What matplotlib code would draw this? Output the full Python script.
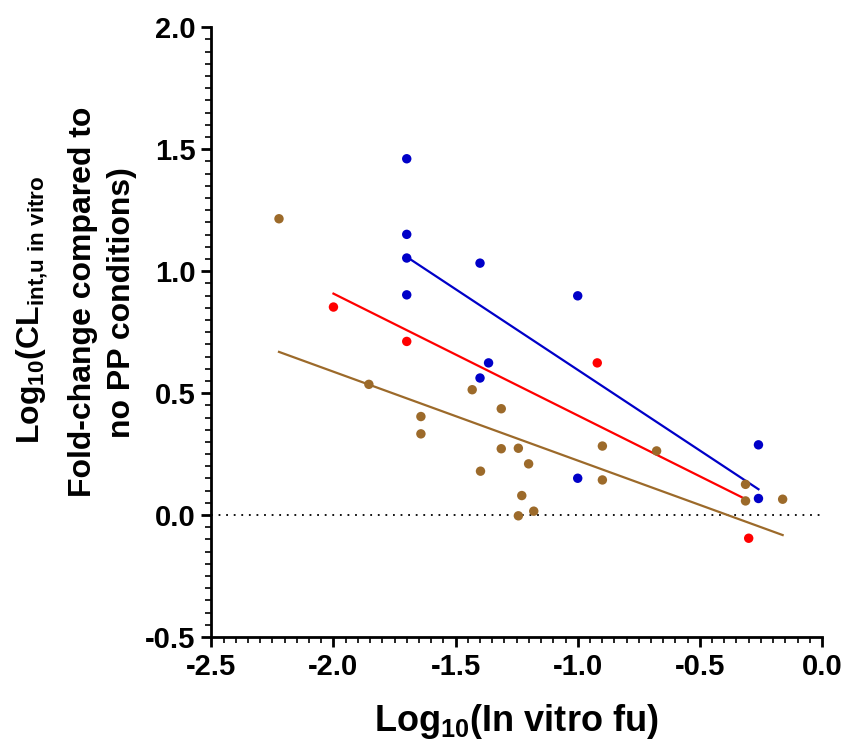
import numpy as np
import matplotlib
matplotlib.use('Agg')
import matplotlib.pyplot as plt
from matplotlib.ticker import MultipleLocator, FormatStrFormatter

plt.rcParams['font.family'] = ['Liberation Sans', 'DejaVu Sans']
plt.rcParams['font.weight'] = 'bold'
plt.rcParams['axes.unicode_minus'] = False
plt.rcParams['mathtext.fontset'] = 'custom'
plt.rcParams['mathtext.rm'] = 'Liberation Sans:bold'
plt.rcParams['mathtext.it'] = 'Liberation Sans:bold'
plt.rcParams['mathtext.bf'] = 'Liberation Sans:bold'

# data: log10(fu) vs log10 fold-change
blue_x = [-1.70, -1.70, -1.70, -1.70, -1.40, -1.365, -1.40, -1.00, -1.00, -0.26, -0.26]
blue_y = [1.461, 1.151, 1.054, 0.903, 1.033, 0.624, 0.562, 0.899, 0.151, 0.288, 0.068]

red_x = [-2.00, -1.70, -0.92, -0.30]
red_y = [0.853, 0.712, 0.624, -0.095]

brown_x = [-2.223, -1.855, -1.642, -1.642, -1.432, -1.313, -1.313, -1.243, -1.201, -1.398,
           -1.229, -1.243, -1.180, -0.899, -0.899, -0.677, -0.313, -0.313, -0.161]
brown_y = [1.215, 0.536, 0.404, 0.333, 0.514, 0.436, 0.272, 0.274, 0.210, 0.180,
           0.080, -0.003, 0.016, 0.283, 0.144, 0.263, 0.126, 0.058, 0.065]

series = [
    (brown_x, brown_y, '#9C6A2A'),
    (red_x, red_y, '#FF0000'),
    (blue_x, blue_y, '#0000C8'),
]

fig = plt.figure(figsize=(8.46, 7.44), dpi=100)
ax = fig.add_axes([0.2498, 0.1438, 0.9716 - 0.2498, 0.9633 - 0.1438])

# zero reference line
ax.plot([-2.5, 0.0], [0, 0], color='black', linewidth=1.3, linestyle=(0, (1, 3.2)), zorder=1)

for xs, ys, col in series:
    xs = np.array(xs)
    ys = np.array(ys)
    ax.scatter(xs, ys, s=46, color=col, edgecolors='none', zorder=3)
    # linear regression drawn over the data range
    slope, icpt = np.polyfit(xs, ys, 1)
    xl = np.array([xs.min(), xs.max()])
    ax.plot(xl, slope * xl + icpt, color=col, linewidth=1.6, zorder=2)

ax.set_xlim(-2.5, 0.0)
ax.set_ylim(-0.5, 2.0)
ax.xaxis.set_major_locator(MultipleLocator(0.5))
ax.xaxis.set_minor_locator(MultipleLocator(0.05))
ax.yaxis.set_major_locator(MultipleLocator(0.5))
ax.yaxis.set_minor_locator(MultipleLocator(0.05))
ax.xaxis.set_major_formatter(FormatStrFormatter('%.1f'))
ax.yaxis.set_major_formatter(FormatStrFormatter('%.1f'))

for side in ['top', 'right']:
    ax.spines[side].set_visible(False)
for side in ['left', 'bottom']:
    ax.spines[side].set_linewidth(2.0)

ax.tick_params(which='major', direction='out', length=7.5, width=2.0, labelsize=21, pad=4)
ax.tick_params(which='minor', direction='out', length=4, width=1.2)
for lab in ax.get_xticklabels() + ax.get_yticklabels():
    lab.set_fontweight('bold')

ax.set_xlabel(r'Log$_{10}$(In vitro fu)', fontsize=26, fontweight='bold', labelpad=15)

# y label: first line separate (the subscript makes it sit further out)
ax.set_ylabel('Fold-change compared to\nno PP conditions)', fontsize=23, fontweight='bold', linespacing=1.38)
ax.yaxis.set_label_coords(-0.122, 0.549)
ax.text(-0.293, 0.536, 'Log$_{10}$(CL$_{\\mathrm{int{,}u\\ in\\ vitro}}$', transform=ax.transAxes,
        rotation=90, ha='center', va='center', fontsize=23, fontweight='bold')

plt.savefig('out.png', dpi=100)
